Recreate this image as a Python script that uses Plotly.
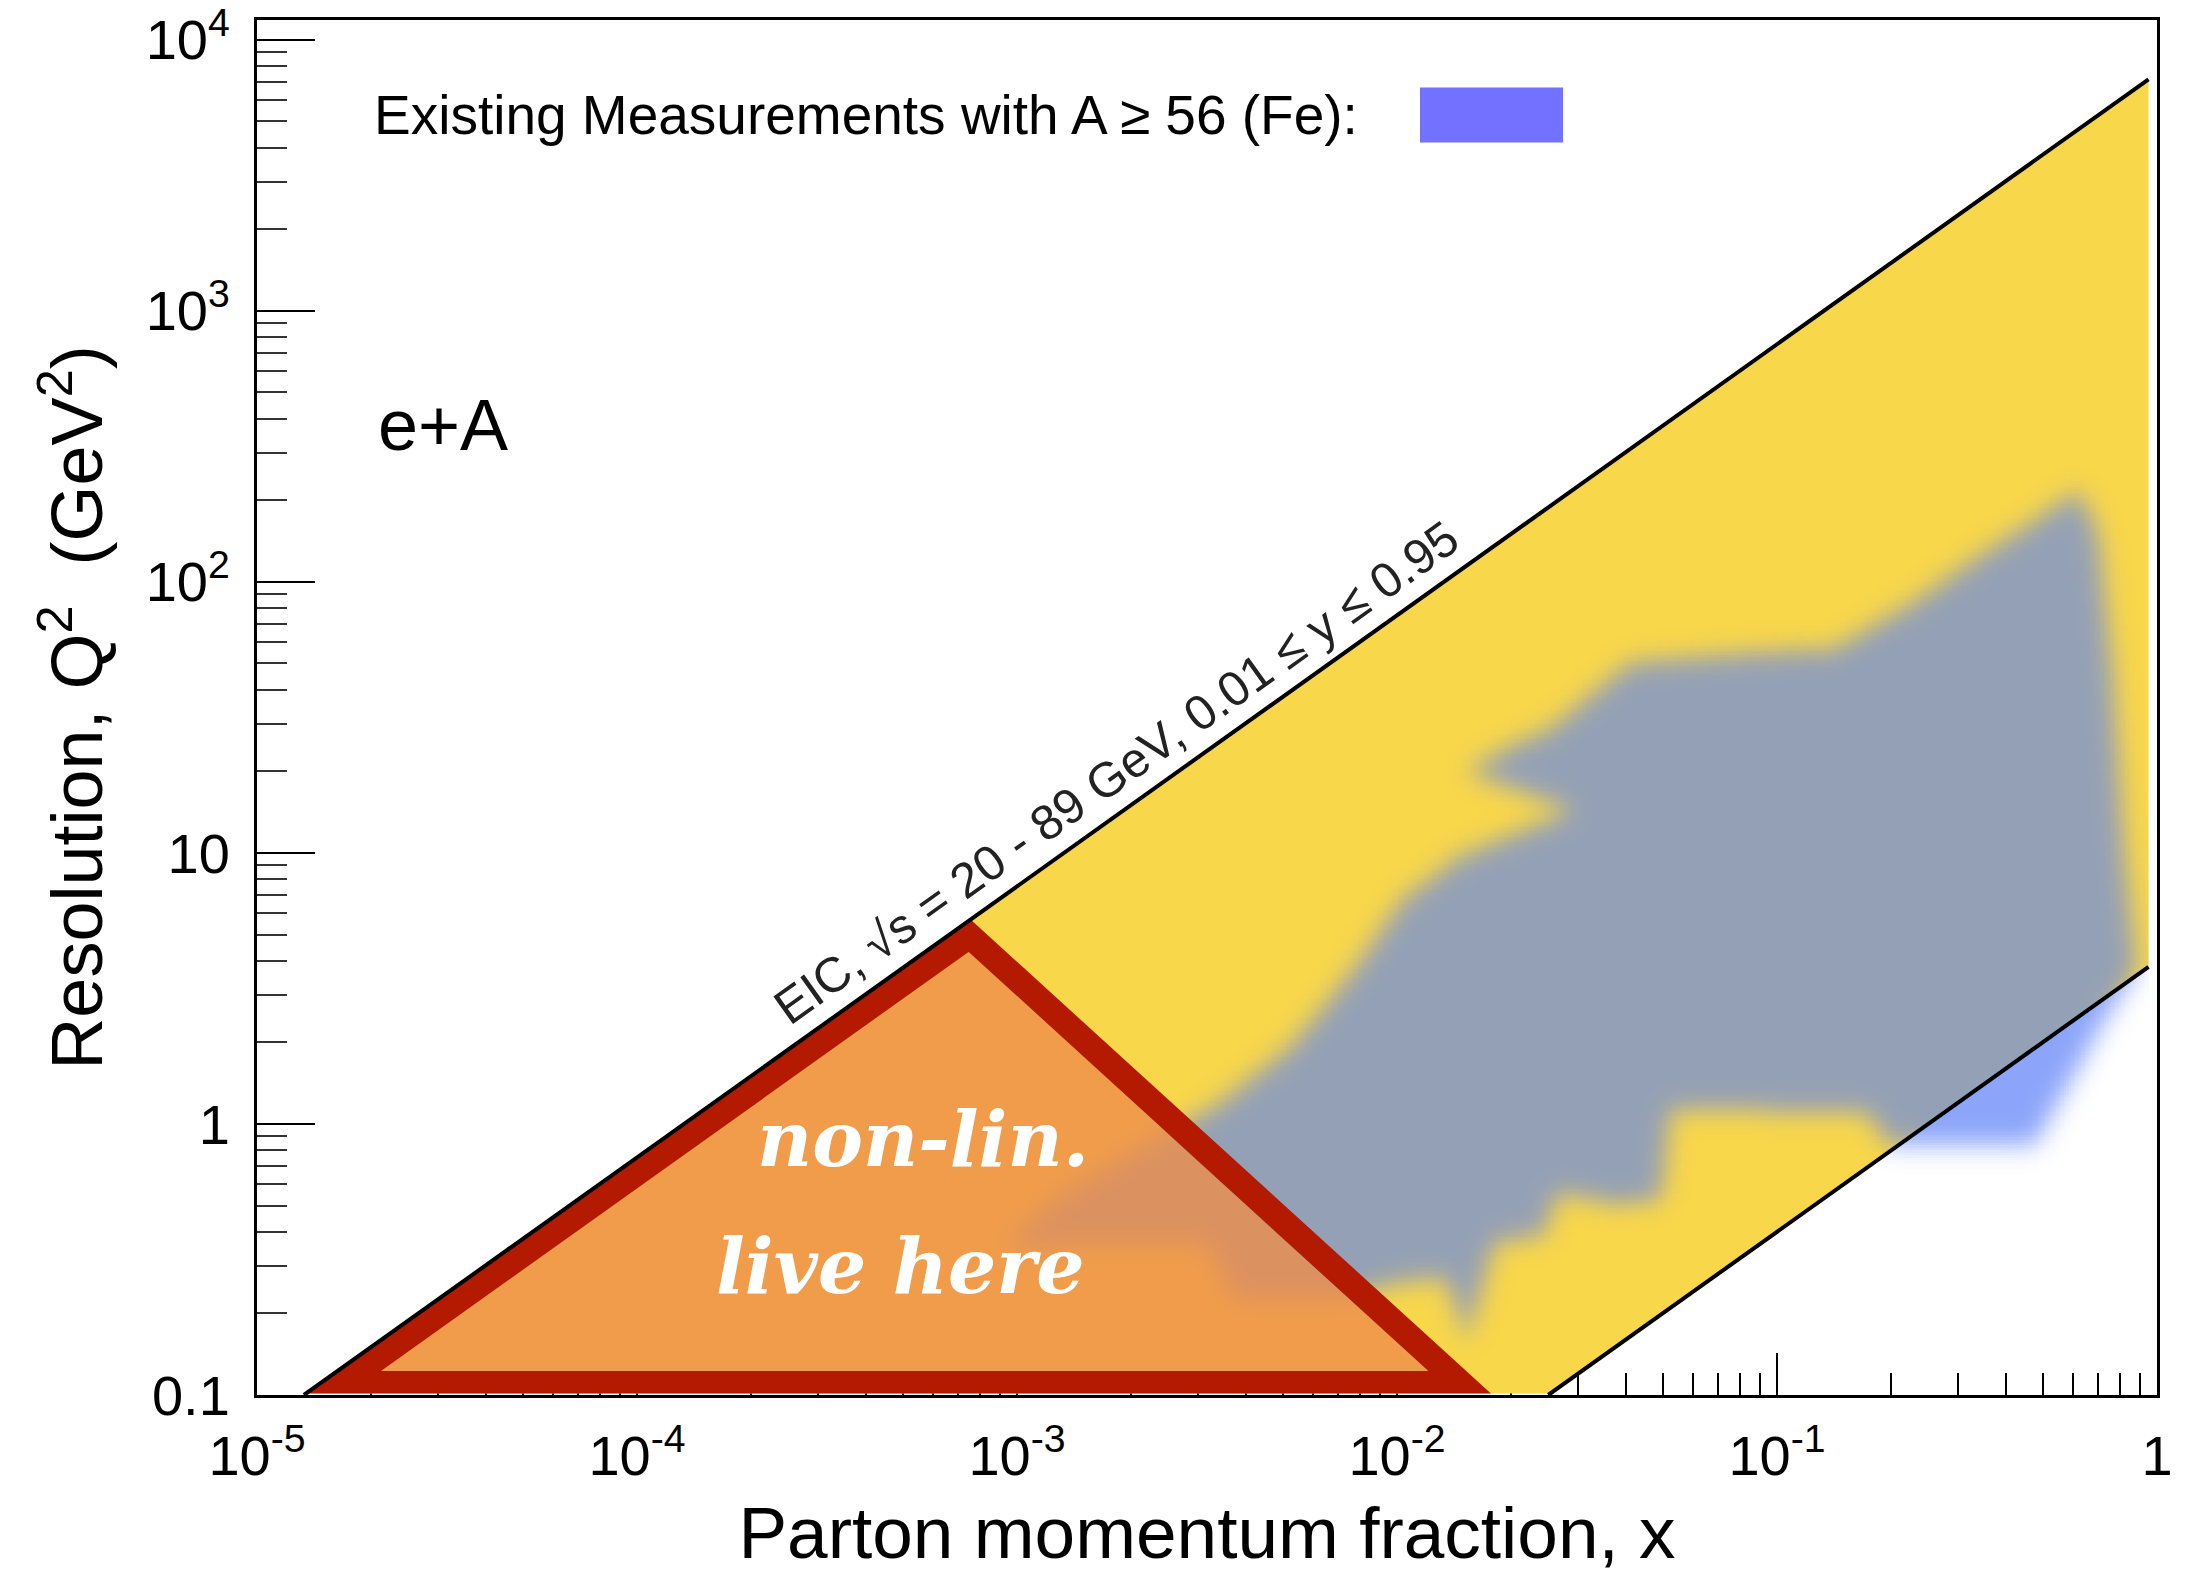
import numpy as np
import plotly.graph_objects as go

# ---------------------------------------------------------------
# Kinematic reach of the EIC in e+A  (x, Q^2 in GeV^2)
# ---------------------------------------------------------------
# boundary lines of the EIC acceptance
upper_x = [1.329e-5, 0.95]       # sqrt(s) = 89 GeV, y = 0.95
upper_q2 = [0.1, 7150.0]
lower_x = [0.025, 0.95]          # sqrt(s) = 20 GeV, y = 0.01
lower_q2 = [0.1, 3.8]

# filled acceptance band (kept a hair above the Q^2 = 0.1 axis line)
band_x = [1.346e-5, 0.95, 0.95, 0.02533]
band_q2 = [0.1013, 7150.0, 3.8, 0.1013]

# outline of the region covered by existing data with A >= 56 (Fe)
fe_x = [9.2e-4, 1.35e-3, 2.45e-3, 3.45e-3, 5.27e-3, 7.73e-3, 0.0104, 0.01464,
        0.02916, 0.01528, 0.01888, 0.02564, 0.04097, 0.0873, 0.1419, 0.2244,
        0.3707, 0.5675, 0.618, 0.7015, 0.7638, 0.818, 0.883, 0.733, 0.4786,
        0.1959, 0.1726, 0.0525, 0.04943, 0.03733, 0.02655, 0.02438, 0.01811,
        0.01528, 0.01344, 9.57e-3, 7.41e-3, 3.75e-3, 3.17e-3, 1.746e-3]
fe_q2 = [0.353, 0.556, 0.917, 1.206, 1.943, 3.74, 6.79, 9.72,
         14.4, 19.9, 23.8, 29.1, 50.4, 54.8, 56.8, 83.2,
         134.0, 199.0, 221.0, 151.0, 45.8, 10.9, 3.74, 2.47, 0.843,
         0.843, 1.096, 1.136, 0.524, 0.505, 0.556, 0.388, 0.366,
         0.159, 0.272, 0.256, 0.227, 0.227, 0.366, 0.366]

# non-linear (saturation) region: outer and inner corners of the framed triangle
tri_outer_x = [1.346e-5, 7.55e-4, 0.01767]
tri_outer_q2 = [0.1013, 5.68, 0.1013]
tri_inner_x = [2.121e-5, 7.46e-4, 0.01209]
tri_inner_q2 = [0.1226, 4.313, 0.1226]

# axis ticks
x_tickvals = [1e-5, 1e-4, 1e-3, 1e-2, 1e-1, 1]
x_ticktext = ["10<sup>-5</sup>", "10<sup>-4</sup>", "10<sup>-3</sup>",
              "10<sup>-2</sup>", "10<sup>-1</sup>", "1"]
y_tickvals = [0.1, 1, 10, 100, 1000, 10000]
y_ticktext = ["0.1", "1", "10", "10<sup>2</sup>", "10<sup>3</sup>", "10<sup>4</sup>"]
x_minor = [k * 10.0 ** d for d in range(-5, 0) for k in range(2, 10)]
y_minor = [k * 10.0 ** d for d in range(-1, 4) for k in range(2, 10)]

# label along the upper boundary
eic_label = "EIC, \u221As = 20 - 89 GeV, 0.01 \u2264 y \u2264 0.95"
eic_label_x = 2.07e-3

YELLOW = "rgb(249,215,75)"
RED = "rgb(180,26,0)"
ORANGE = "rgba(238,141,75,0.8)"
FONT = "Liberation Sans, Arial, Helvetica, sans-serif"


# ---------------------------------------------------------------
# soft-edged "existing data" region: rasterise the outline on a
# log-log grid and blur it
# ---------------------------------------------------------------
def in_polygon(X, Y, vx, vy):
    inside = np.zeros(X.shape, dtype=bool)
    n = len(vx)
    j = n - 1
    with np.errstate(divide="ignore", invalid="ignore"):
        for i in range(n):
            xi, yi, xj, yj = vx[i], vy[i], vx[j], vy[j]
            crosses = (yi > Y) != (yj > Y)
            xint = (xj - xi) * (Y - yi) / (yj - yi) + xi
            inside ^= crosses & (X < xint)
            j = i
    return inside


def gaussian_blur(a, sigma):
    r = int(3 * sigma)
    k = np.exp(-0.5 * (np.arange(-r, r + 1) / sigma) ** 2)
    k /= k.sum()
    a = np.apply_along_axis(lambda v: np.convolve(v, k, mode="same"), 0, a)
    a = np.apply_along_axis(lambda v: np.convolve(v, k, mode="same"), 1, a)
    return a


gx = np.linspace(-3.4, 0.0, 520)
gy = np.linspace(-1.0, 2.7, 400)
GX, GY = np.meshgrid(gx, gy)

mask = in_polygon(GX, GY, np.log10(fe_x), np.log10(fe_q2)).astype(float)
soft = gaussian_blur(mask, 4.8)

up_line = np.interp(GX, np.log10(upper_x), np.log10(upper_q2))
lo_line = np.interp(GX, np.log10(lower_x), np.log10(lower_q2), left=-10.0)
xmax = np.log10(upper_x[-1])
in_band = (GY <= up_line) & (GY >= lo_line) & (GX <= xmax)
below = (GY < lo_line) & (GX <= xmax)

z = np.full(GX.shape, np.nan)
z[in_band] = soft[in_band]          # 0..1 -> grey over the yellow band
z[below] = 2.0 + soft[below]        # 2..3 -> blue outside the band
z[soft < 0.005] = np.nan
z = np.round(z, 3)

fe_colorscale = [
    [0.0, "rgba(148,160,182,0)"],
    [1 / 3, "rgba(148,160,182,1)"],
    [2 / 3, "rgba(140,165,250,0)"],
    [1.0, "rgba(140,165,250,1)"],
]

# ---------------------------------------------------------------
fig = go.Figure()

# acceptance band (base subplot)
fig.add_trace(go.Scatter(
    x=band_x, y=band_q2, mode="lines", fill="toself",
    fillcolor=YELLOW, line=dict(width=0), hoverinfo="skip", showlegend=False,
))

# existing measurements (overlay subplot, drawn above the band)
fig.add_trace(go.Heatmap(
    x=10.0 ** gx, y=10.0 ** gy, z=z, xaxis="x2", yaxis="y",
    colorscale=fe_colorscale, zmin=0, zmax=3, showscale=False,
    hoverinfo="skip",
))

# triangle interior
fig.add_trace(go.Scatter(
    x=tri_inner_x + [tri_inner_x[0]], y=tri_inner_q2 + [tri_inner_q2[0]],
    xaxis="x2", yaxis="y", mode="lines", fill="toself", fillcolor=ORANGE,
    line=dict(width=0), hoverinfo="skip", showlegend=False,
))

# triangle frame: outer outline, then inner outline in reverse -> ring
a, b, c = 0, 1, 2
ring_x = tri_outer_x + [tri_outer_x[0]] + [tri_inner_x[a], tri_inner_x[c],
                                            tri_inner_x[b], tri_inner_x[a]] + [tri_outer_x[0]]
ring_q2 = tri_outer_q2 + [tri_outer_q2[0]] + [tri_inner_q2[a], tri_inner_q2[c],
                                               tri_inner_q2[b], tri_inner_q2[a]] + [tri_outer_q2[0]]
fig.add_trace(go.Scatter(
    x=ring_x, y=ring_q2, xaxis="x2", yaxis="y", mode="lines", fill="toself",
    fillcolor=RED, line=dict(width=0), hoverinfo="skip", showlegend=False,
))

# boundary lines
for lx, lq in ((upper_x, upper_q2), (lower_x, lower_q2)):
    fig.add_trace(go.Scatter(
        x=lx, y=lq, xaxis="x2", yaxis="y", mode="lines",
        line=dict(color="black", width=4), hoverinfo="skip", showlegend=False,
    ))

# label along the upper line (annotation coordinates are log10 on log axes)
lab_lx = np.log10(eic_label_x)
lab_lq = float(np.interp(lab_lx, np.log10(upper_x), np.log10(upper_q2)))
ang = 35.5
off = 35
fig.add_annotation(
    x=lab_lx, y=lab_lq, xref="x", yref="y", text=eic_label, showarrow=False,
    textangle=-ang, xshift=-off * np.sin(np.radians(ang)),
    yshift=off * np.cos(np.radians(ang)),
    font=dict(family=FONT, size=49, color="#222222"),
)

# legend entry
fig.add_annotation(
    x=0.0605, y=0.931, xref="paper", yref="paper", xanchor="left", yanchor="middle",
    text="Existing Measurements with A \u2265 56 (Fe):", showarrow=False,
    font=dict(family=FONT, size=55, color="black"),
)
fig.add_shape(
    type="rect", xref="paper", yref="paper", x0=0.6121, x1=0.6874, y0=0.911, y1=0.951,
    fillcolor="rgb(115,113,255)", line=dict(width=0), layer="above",
)

# collision system
fig.add_annotation(
    x=0.0626, y=0.7053, xref="paper", yref="paper", xanchor="left", yanchor="middle",
    text="e+A", showarrow=False, font=dict(family=FONT, size=72, color="black"),
)

# triangle caption
for txt, px, py in (("non-lin.", 0.3505, 0.1861), ("live here", 0.3389, 0.0938)):
    fig.add_annotation(
        x=px, y=py, xref="paper", yref="paper", xanchor="center", yanchor="middle",
        text=txt, showarrow=False,
        font=dict(family="DejaVu Serif, serif", size=76, color="white",
                  style="italic", weight="bold"),
    )

axis_common = dict(
    type="log", showgrid=False, zeroline=False, showline=True, linecolor="black",
    linewidth=3, mirror=True, ticks="inside", tickcolor="black", tickwidth=2,
    tickfont=dict(family=FONT, size=56, color="black"), layer="below traces",
    tickmode="array", automargin=False,
)

fig.update_layout(
    width=2201, height=1573, autosize=False,
    margin=dict(l=257, r=44, t=20, b=178),
    paper_bgcolor="white", plot_bgcolor="white",
    showlegend=False,
    xaxis=dict(
        **axis_common, range=[-5, 0], tickvals=x_tickvals, ticktext=x_ticktext,
        ticklen=42, ticklabelstandoff=10,
        minor=dict(tickmode="array", tickvals=x_minor, ticks="inside", ticklen=22,
                   tickcolor="black", tickwidth=2),
        title=dict(text="Parton momentum fraction, x", standoff=25,
                   font=dict(family=FONT, size=73, color="black")),
    ),
    yaxis=dict(
        **axis_common, range=[-1, 4.073], tickvals=y_tickvals, ticktext=y_ticktext,
        ticklen=58, ticklabelstandoff=13,
        minor=dict(tickmode="array", tickvals=y_minor, ticks="inside", ticklen=30,
                   tickcolor="#333333", tickwidth=2),
        title=dict(text="Resolution, Q<sup>2</sup>\u00a0 (GeV<sup>2</sup>)", standoff=20,
                   font=dict(family=FONT, size=72, color="black")),
    ),
    xaxis2=dict(type="log", range=[-5, 0], overlaying="x", anchor="y", visible=False,
                showgrid=False, zeroline=False, automargin=False),
)

fig.write_html("out.html")
